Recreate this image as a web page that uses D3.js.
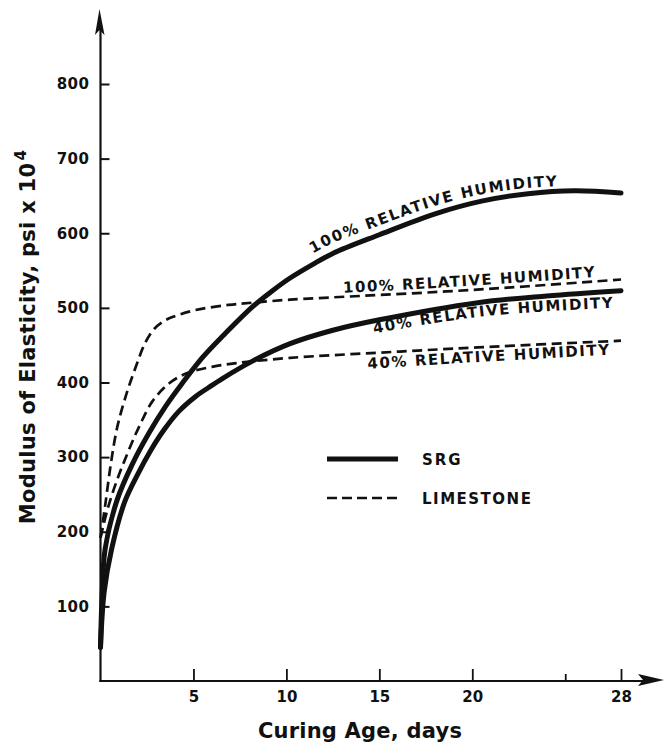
<!DOCTYPE html>
<html><head><meta charset="utf-8">
<script src="https://cdn.jsdelivr.net/npm/d3@7"></script>
<style>
body{margin:0;background:#fff;}
svg text{font-family:"DejaVu Sans",sans-serif;font-weight:bold;fill:#111;}
</style></head><body>
<svg id="c" width="665" height="746"></svg>
<script>
// ---------- data (days, modulus psi x 10^4) ----------
const xTicks = [5, 10, 15, 20, 25, 28];
const xTickLabels = ["5", "10", "15", "20", "", "28"];
const yTicks = [100, 200, 300, 400, 500, 600, 700, 800];

const srg100 = [[0,45],[0.08,110],[0.25,177],[0.9,243],[1.7,290],[2.6,332],[3.5,368],[4.4,399],[5.5,434],[6.6,463],[8.2,502],[9.2,522],[10.2,540],[11.4,558],[12.5,573],[15,598],[18,626],[20.5,643],[23,653],[25.5,657],[28,654]];
const srg40 = [[0,45],[0.2,120],[0.6,177],[1.3,240],[2.0,277],[2.7,309],[3.4,336],[4.2,361],[5.1,381],[5.8,393],[6.6,406],[8.2,429],[10.2,452],[12.5,470],[15,484],[20.3,507],[24,516],[28,523]];
const lime100 = [[0,192],[0.25,235],[0.55,290],[0.9,340],[1.4,385],[1.9,421],[2.4,453],[2.9,472],[3.4,482],[3.9,488],[5.1,497],[6.9,504],[8.2,507],[10.2,511],[14,516],[18.6,522],[23,529],[28,538]];
const lime40 = [[0,192],[0.4,232],[0.9,270],[1.5,308],[2.1,342],[2.8,375],[3.7,399],[4.7,413],[6.0,421],[7.3,426],[10.2,433],[15,440],[20.3,447],[28,456]];

const curveLabels = ["100% RELATIVE HUMIDITY", "100% RELATIVE HUMIDITY", "40% RELATIVE HUMIDITY", "40% RELATIVE HUMIDITY"];
const legendLabels = ["SRG", "LIMESTONE"];
const xTitle = "Curing Age, days";
const yTitle = "Modulus of Elasticity, psi x 10";
const yTitleSup = "4";

// ---------- setup ----------
const svg = d3.select("#c");
const defs = svg.append("defs");
const x = d3.scaleLinear().domain([0, 28]).range([100.5, 621]);
const y = d3.scaleLinear().domain([0, 800]).range([681, 84]);
const ink = "#111";

// ---------- axes ----------
const yAxis = d3.axisLeft(y).tickValues(yTicks).tickSizeInner(-9).tickSizeOuter(0).tickPadding(11).tickFormat(d3.format("d"));
const gy = svg.append("g").attr("transform", `translate(${x(0)},0)`).call(yAxis);
gy.select(".domain").remove();
gy.selectAll(".tick line").attr("stroke", ink).attr("stroke-width", 2);
gy.selectAll(".tick text").attr("font-size", 15).attr("fill", ink).style("letter-spacing", "0.5px");

const xAxis = d3.axisBottom(x).tickValues(xTicks).tickSizeInner(-12).tickSizeOuter(0).tickPadding(10).tickFormat((d, i) => xTickLabels[i]);
const gx = svg.append("g").attr("transform", `translate(0,${y(0)})`).call(xAxis);
gx.select(".domain").remove();
gx.selectAll(".tick line").attr("stroke", ink).attr("stroke-width", 1.8)
  .attr("y2", d => d === 25 ? -7 : -12);
gx.selectAll(".tick text").attr("font-size", 15).attr("fill", ink);

// axis lines with arrows
const x0 = x(0), y0 = y(0);
svg.append("line").attr("x1", x0).attr("y1", y0 + 1).attr("x2", x0).attr("y2", 28)
  .attr("stroke", ink).attr("stroke-width", 2.2);
svg.append("path").attr("d", `M${x0 - 1},9 L${x0 - 5.5},35 L${x0 - 1},30 L${x0 + 4},35 Z`).attr("fill", ink);
svg.append("line").attr("x1", x0 - 1.1).attr("y1", y0).attr("x2", 645).attr("y2", y0)
  .attr("stroke", ink).attr("stroke-width", 2.2);
svg.append("path").attr("d", `M664,${y0 - 1} L638,${y0 - 7} L643,${y0 - 1} L638,${y0 + 5} Z`).attr("fill", ink);

// ---------- curves ----------
const line = d3.line().x(d => x(d[0])).y(d => y(d[1])).curve(d3.curveCatmullRom.alpha(0.5));
const solidStyle = p => p.attr("fill", "none").attr("stroke", ink).attr("stroke-width", 5).attr("stroke-linecap", "round");
const dashStyle = p => p.attr("fill", "none").attr("stroke", ink).attr("stroke-width", 2.7).attr("stroke-dasharray", "10,5.5");

const pLime100 = svg.append("path").attr("d", line(lime100)).call(dashStyle);
const pLime40 = svg.append("path").attr("d", line(lime40)).call(dashStyle);
const pSrg100 = svg.append("path").attr("d", line(srg100)).call(solidStyle);
const pSrg40 = svg.append("path").attr("d", line(srg40)).call(solidStyle);

// ---------- curve labels along offset copies of the curves ----------
function curveLabel(pathSel, id, text, xa, xb, offA, offB) {
  const node = pathSel.node();
  const L = node.getTotalLength();
  const pts = [];
  for (let s = 0; s <= L; s += 1) {
    const p = node.getPointAtLength(s);
    if (p.x >= xa && p.x <= xb) {
      const t = (p.x - xa) / (xb - xa);
      pts.push([p.x, p.y + offA + t * (offB - offA)]);
    }
  }
  const lp = defs.append("path").attr("id", id).attr("d", "M" + pts.map(p => p[0].toFixed(2) + "," + p[1].toFixed(2)).join("L"));
  const target = lp.node().getTotalLength();
  const t = svg.append("text").attr("font-size", 15);
  t.append("textPath").attr("href", "#" + id).text(text);
  const nat = t.node().getComputedTextLength();
  const ls = (target - nat) / (text.length - 1);
  t.style("letter-spacing", ls + "px");
}
curveLabel(pSrg100, "lbl1", curveLabels[0], 312, 557, -11, -5);
curveLabel(pLime100, "lbl2", curveLabels[1], 343, 595, -4, -4.5);
curveLabel(pSrg40, "lbl3", curveLabels[2], 373, 613, 12.5, 16.5);
curveLabel(pLime40, "lbl4", curveLabels[3], 367, 610, 15.5, 13.5);

// ---------- legend ----------
svg.append("line").attr("x1", 327).attr("x2", 398).attr("y1", 459).attr("y2", 459).call(solidStyle).attr("stroke-linecap", "butt");
svg.append("line").attr("x1", 327).attr("x2", 398).attr("y1", 498).attr("y2", 498).call(dashStyle).attr("stroke-dasharray", "10,5");
svg.append("text").attr("x", 422).attr("y", 464.5).attr("font-size", 15).style("letter-spacing", "2px").text(legendLabels[0]);
svg.append("text").attr("x", 422).attr("y", 503.5).attr("font-size", 15).style("letter-spacing", "1.5px").text(legendLabels[1]);

// ---------- axis titles ----------
function fit(sel, target) {
  const n = sel.text().length;
  const nat = sel.node().getComputedTextLength();
  sel.style("letter-spacing", ((target - nat) / (n - 1)) + "px");
}
const xt = svg.append("text").attr("x", 360).attr("y", 738).attr("font-size", 21).attr("text-anchor", "middle").text(xTitle);
fit(xt, 204);

const yt = svg.append("text").attr("transform", "translate(35,337) rotate(-90)").attr("font-size", 21).attr("text-anchor", "middle");
yt.append("tspan").text(yTitle);
yt.append("tspan").attr("dy", -9).attr("font-size", 15).attr("dx", 2).text(yTitleSup);
fit(yt, 372);
</script>
</body></html>
